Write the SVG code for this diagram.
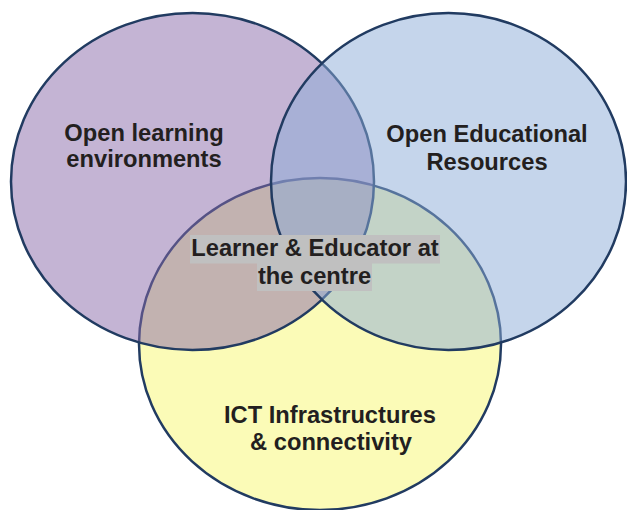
<svg xmlns="http://www.w3.org/2000/svg" width="627" height="510" viewBox="0 0 627 510">
<style>
.set{stroke:#213b61;stroke-width:2.5}
.lbl{font-family:"Liberation Sans",Arial,sans-serif;font-weight:bold;font-size:23.7px;fill:#231f20;text-anchor:middle}
.hl{fill:#c0c0c0}
</style>
<rect width="627" height="510" fill="#ffffff"/>
<g id="ict">
<ellipse class="set" cx="320" cy="344" rx="181" ry="166" fill="#fbfbb7"/>
</g>
<g id="ole">
<ellipse class="set" cx="192.5" cy="181.5" rx="181.5" ry="168.5" fill="#8969a9" fill-opacity="0.5"/>
</g>
<g id="oer">
<ellipse class="set" cx="448.5" cy="181.5" rx="177.5" ry="168.5" fill="#8babd7" fill-opacity="0.5"/>
</g>
<g id="labels">
<text class="lbl" x="144" y="140.5">Open learning</text>
<text class="lbl" x="144" y="167">environments</text>
<text class="lbl" x="487" y="142">Open Educational</text>
<text class="lbl" x="487" y="170">Resources</text>
<text class="lbl" x="330" y="423">ICT Infrastructures</text>
<text class="lbl" x="331" y="450">&amp; connectivity</text>
</g>
<g id="centre">
<rect class="hl" x="190" y="235" width="250" height="28.5"/>
<rect class="hl" x="257" y="263" width="115" height="28"/>
<text class="lbl" x="315" y="256">Learner &amp; Educator at</text>
<text class="lbl" x="314.5" y="283.5">the centre</text>
</g>
</svg>
